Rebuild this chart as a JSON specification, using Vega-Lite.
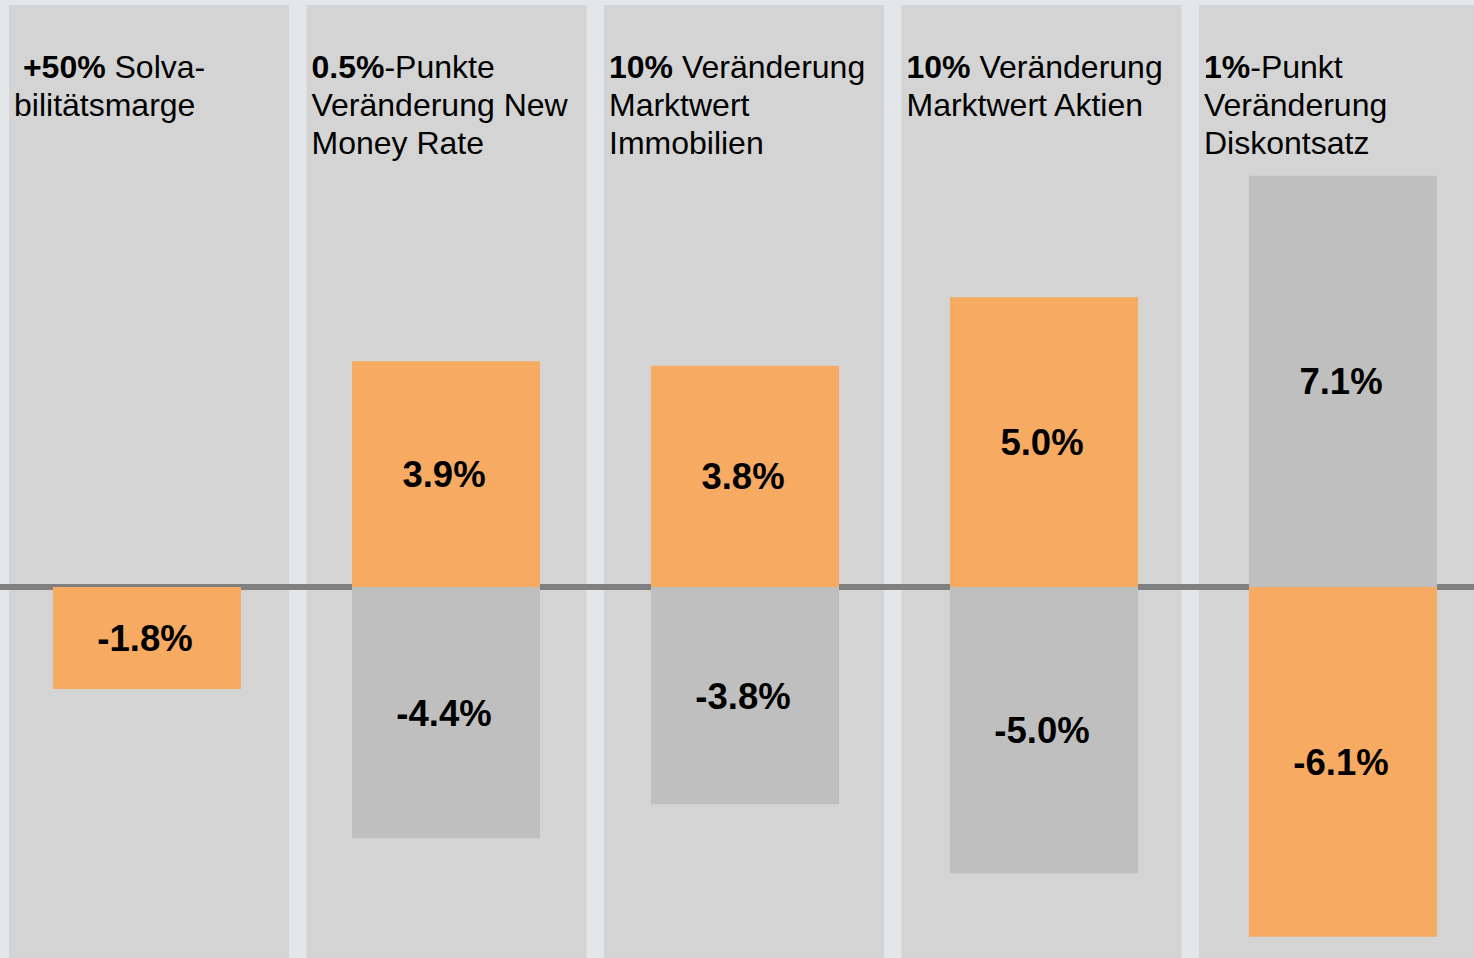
{
  "$schema": "https://vega.github.io/schema/vega-lite/v6.json",
  "autosize": {"type": "none"},
  "width": 1474,
  "height": 953,
  "padding": {"top": 5, "left": 0, "right": 0, "bottom": 0},
  "background": "#e3e7ea",
  "config": {
    "view": {"stroke": null},
    "font": "Liberation Sans",
    "locale": {"number": {"decimal": ".", "thousands": ",", "grouping": [3], "currency": ["", ""], "minus": "-", "percent": "%"}}
  },
  "datasets": {
    "felder": [
      {"panel": "Solvabilitätsmarge"},
      {"panel": "New Money Rate"},
      {"panel": "Marktwert Immobilien"},
      {"panel": "Marktwert Aktien"},
      {"panel": "Diskontsatz"}
    ],
    "balken": [
      {"panel": "Solvabilitätsmarge", "richtung": "Erhöhung", "wert": -0.0177},
      {"panel": "New Money Rate", "richtung": "Erhöhung", "wert": 0.0392},
      {"panel": "New Money Rate", "richtung": "Senkung", "wert": -0.0436},
      {"panel": "Marktwert Immobilien", "richtung": "Erhöhung", "wert": 0.0384},
      {"panel": "Marktwert Immobilien", "richtung": "Senkung", "wert": -0.0377},
      {"panel": "Marktwert Aktien", "richtung": "Erhöhung", "wert": 0.0503},
      {"panel": "Marktwert Aktien", "richtung": "Senkung", "wert": -0.0497},
      {"panel": "Diskontsatz", "richtung": "Senkung", "wert": 0.0714},
      {"panel": "Diskontsatz", "richtung": "Erhöhung", "wert": -0.0607}
    ],
    "titel": [
      {"panel": "Solvabilitätsmarge", "zeile": 1, "fett": " +50%", "text": " Solva-"},
      {"panel": "Solvabilitätsmarge", "zeile": 2, "fett": "", "text": "bilitätsmarge"},
      {"panel": "New Money Rate", "zeile": 1, "fett": "0.5%", "text": "-Punkte"},
      {"panel": "New Money Rate", "zeile": 2, "fett": "", "text": "Veränderung New"},
      {"panel": "New Money Rate", "zeile": 3, "fett": "", "text": "Money Rate"},
      {"panel": "Marktwert Immobilien", "zeile": 1, "fett": "10%", "text": " Veränderung"},
      {"panel": "Marktwert Immobilien", "zeile": 2, "fett": "", "text": "Marktwert"},
      {"panel": "Marktwert Immobilien", "zeile": 3, "fett": "", "text": "Immobilien"},
      {"panel": "Marktwert Aktien", "zeile": 1, "fett": "10%", "text": " Veränderung"},
      {"panel": "Marktwert Aktien", "zeile": 2, "fett": "", "text": "Marktwert Aktien"},
      {"panel": "Diskontsatz", "zeile": 1, "fett": "1%", "text": "-Punkt"},
      {"panel": "Diskontsatz", "zeile": 2, "fett": "", "text": "Veränderung"},
      {"panel": "Diskontsatz", "zeile": 3, "fett": "", "text": "Diskontsatz"}
    ]
  },
  "layer": [
    {
      "data": {"name": "felder"},
      "mark": {"type": "bar", "color": "#d4d4d4"},
      "encoding": {
        "x": {"field": "panel", "type": "nominal", "sort": null, "axis": null,
              "scale": {"type": "band", "range": [9, 1479], "paddingInner": 0.0588, "paddingOuter": 0}}
      }
    },
    {
      "data": {"name": "felder"},
      "mark": {"type": "rule", "color": "#808080", "strokeWidth": 6},
      "encoding": {
        "y": {"datum": 0, "type": "quantitative", "axis": null,
              "scale": {"domain": [-0.06441, 0.10104], "nice": false, "zero": false}}
      }
    },
    {
      "data": {"name": "balken"},
      "mark": {"type": "bar"},
      "encoding": {
        "x": {"field": "panel", "type": "nominal", "sort": null, "axis": null,
              "scale": {"type": "band", "range": [53, 1437], "paddingInner": 0.3712, "paddingOuter": 0}},
        "y": {"field": "wert", "type": "quantitative", "stack": null, "axis": null,
              "scale": {"domain": [-0.06441, 0.10104], "nice": false, "zero": false}},
        "color": {"field": "richtung", "type": "nominal", "legend": null,
                  "scale": {"domain": ["Erhöhung", "Senkung"], "range": ["#f6aa62", "#bfbfbf"]}}
      }
    },
    {
      "data": {"name": "balken"},
      "mark": {"type": "text", "fontSize": 36.5, "fontWeight": "bold", "color": "#000000", "baseline": "middle", "align": "center", "dx": -2, "dy": 2},
      "encoding": {
        "x": {"field": "panel", "type": "nominal", "sort": null, "axis": null,
              "scale": {"type": "band", "range": [53, 1437], "paddingInner": 0.3712, "paddingOuter": 0}},
        "y": {"field": "wert", "type": "quantitative", "axis": null,
              "scale": {"domain": [-0.12882, 0.20208], "nice": false, "zero": false}},
        "text": {"field": "wert", "type": "quantitative", "format": ".1%"}
      }
    },
    {
      "data": {"name": "titel"},
      "transform": [{"filter": "datum.fett != ''"}],
      "mark": {"type": "text", "fontSize": 32, "fontWeight": "bold", "color": "#000000", "baseline": "alphabetic", "align": "left",
               "dx": {"expr": "5 + (indexof(datum.fett, ' ') == 0 ? 32*0.278 : 0)"}},
      "encoding": {
        "x": {"field": "panel", "type": "nominal", "sort": null, "axis": null, "bandPosition": 0,
              "scale": {"type": "band", "range": [9, 1479], "paddingInner": 0.0588, "paddingOuter": 0}},
        "y": {"field": "zeile", "type": "ordinal", "axis": null,
              "scale": {"type": "point", "domain": [1, 2, 3], "range": [72.5, 148.5], "padding": 0}},
        "text": {"field": "fett"}
      }
    },
    {
      "data": {"name": "titel"},
      "mark": {"type": "text", "fontSize": 32, "fontWeight": "normal", "color": "#000000", "baseline": "alphabetic", "align": "left",
               "dx": {"expr": "5 + 32*(0.556*length(datum.fett) + 0.333*(length(split(datum.fett,'%'))-1) - 0.278*(length(split(datum.fett,'.'))-1) + 0.028*(length(split(datum.fett,'+'))-1) - 0.278*(length(split(datum.fett,' '))-1)) + (indexof(datum.text, ' ') == 0 ? 32*0.278 : 0)"}},
      "encoding": {
        "x": {"field": "panel", "type": "nominal", "sort": null, "axis": null, "bandPosition": 0,
              "scale": {"type": "band", "range": [9, 1479], "paddingInner": 0.0588, "paddingOuter": 0}},
        "y": {"field": "zeile", "type": "ordinal", "axis": null,
              "scale": {"type": "point", "domain": [1, 2, 3], "range": [72.5, 148.5], "padding": 0}},
        "text": {"field": "text"}
      }
    }
  ],
  "resolve": {"scale": {"x": "independent", "y": "independent", "color": "independent"}}
}
